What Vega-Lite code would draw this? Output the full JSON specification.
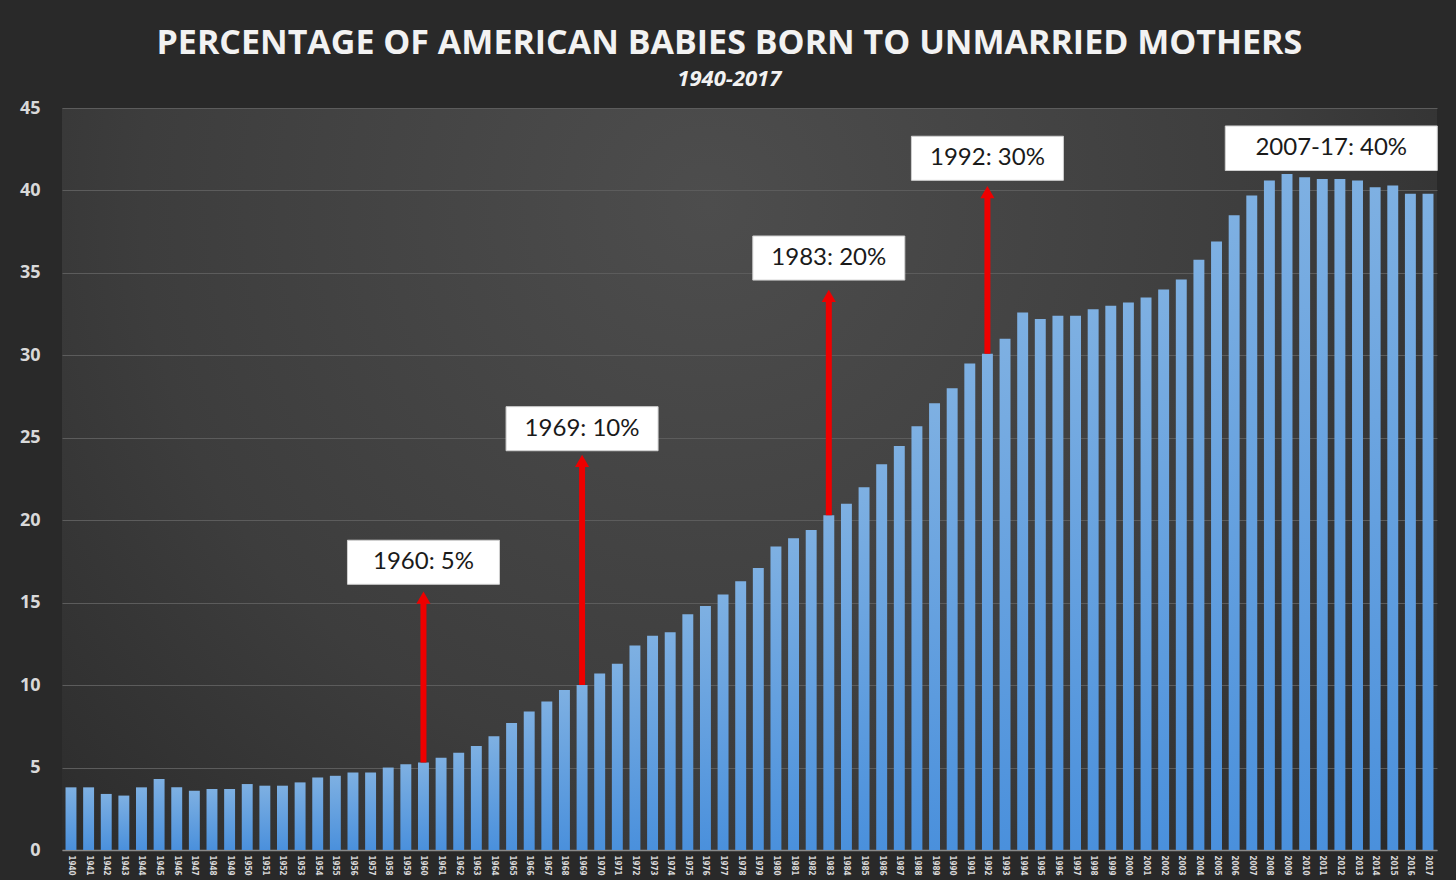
{
  "$schema": "https://vega.github.io/schema/vega-lite/v6.json",
  "width": 1456,
  "height": 880,
  "autosize": {"type": "fit", "contains": "padding"},
  "padding": {"left": 19, "right": 19, "top": 27, "bottom": 4},
  "background": "#292929",
  "title": {
    "text": "PERCENTAGE OF AMERICAN BABIES BORN TO UNMARRIED MOTHERS",
    "subtitle": "1940-2017",
    "anchor": "middle",
    "frame": "bounds",
    "color": "#f2f2f2",
    "font": "Open Sans",
    "fontSize": 34,
    "fontWeight": "bold",
    "subtitleColor": "#f2f2f2",
    "subtitleFont": "Open Sans",
    "subtitleFontSize": 22,
    "subtitleFontWeight": "bold",
    "subtitleFontStyle": "italic",
    "subtitlePadding": 8,
    "offset": 9
  },
  "config": {
    "view": {
      "stroke": null,
      "fill": {
        "gradient": "radial",
        "x1": 0.47, "y1": 0.3, "r1": 0,
        "x2": 0.47, "y2": 0.3, "r2": 0.75,
        "stops": [
          {"offset": 0, "color": "#4d4d4d"},
          {"offset": 0.55, "color": "#3d3d3d"},
          {"offset": 1, "color": "#262626"}
        ]
      }
    }
  },
  "datasets": {
    "births": [
      {"year": 1940, "pct": 3.8}, {"year": 1941, "pct": 3.8}, {"year": 1942, "pct": 3.4}, {"year": 1943, "pct": 3.3},
      {"year": 1944, "pct": 3.8}, {"year": 1945, "pct": 4.3}, {"year": 1946, "pct": 3.8}, {"year": 1947, "pct": 3.6},
      {"year": 1948, "pct": 3.7}, {"year": 1949, "pct": 3.7}, {"year": 1950, "pct": 4.0}, {"year": 1951, "pct": 3.9},
      {"year": 1952, "pct": 3.9}, {"year": 1953, "pct": 4.1}, {"year": 1954, "pct": 4.4}, {"year": 1955, "pct": 4.5},
      {"year": 1956, "pct": 4.7}, {"year": 1957, "pct": 4.7}, {"year": 1958, "pct": 5.0}, {"year": 1959, "pct": 5.2},
      {"year": 1960, "pct": 5.3}, {"year": 1961, "pct": 5.6}, {"year": 1962, "pct": 5.9}, {"year": 1963, "pct": 6.3},
      {"year": 1964, "pct": 6.9}, {"year": 1965, "pct": 7.7}, {"year": 1966, "pct": 8.4}, {"year": 1967, "pct": 9.0},
      {"year": 1968, "pct": 9.7}, {"year": 1969, "pct": 10.0}, {"year": 1970, "pct": 10.7}, {"year": 1971, "pct": 11.3},
      {"year": 1972, "pct": 12.4}, {"year": 1973, "pct": 13.0}, {"year": 1974, "pct": 13.2}, {"year": 1975, "pct": 14.3},
      {"year": 1976, "pct": 14.8}, {"year": 1977, "pct": 15.5}, {"year": 1978, "pct": 16.3}, {"year": 1979, "pct": 17.1},
      {"year": 1980, "pct": 18.4}, {"year": 1981, "pct": 18.9}, {"year": 1982, "pct": 19.4}, {"year": 1983, "pct": 20.3},
      {"year": 1984, "pct": 21.0}, {"year": 1985, "pct": 22.0}, {"year": 1986, "pct": 23.4}, {"year": 1987, "pct": 24.5},
      {"year": 1988, "pct": 25.7}, {"year": 1989, "pct": 27.1}, {"year": 1990, "pct": 28.0}, {"year": 1991, "pct": 29.5},
      {"year": 1992, "pct": 30.1}, {"year": 1993, "pct": 31.0}, {"year": 1994, "pct": 32.6}, {"year": 1995, "pct": 32.2},
      {"year": 1996, "pct": 32.4}, {"year": 1997, "pct": 32.4}, {"year": 1998, "pct": 32.8}, {"year": 1999, "pct": 33.0},
      {"year": 2000, "pct": 33.2}, {"year": 2001, "pct": 33.5}, {"year": 2002, "pct": 34.0}, {"year": 2003, "pct": 34.6},
      {"year": 2004, "pct": 35.8}, {"year": 2005, "pct": 36.9}, {"year": 2006, "pct": 38.5}, {"year": 2007, "pct": 39.7},
      {"year": 2008, "pct": 40.6}, {"year": 2009, "pct": 41.0}, {"year": 2010, "pct": 40.8}, {"year": 2011, "pct": 40.7},
      {"year": 2012, "pct": 40.7}, {"year": 2013, "pct": 40.6}, {"year": 2014, "pct": 40.2}, {"year": 2015, "pct": 40.3},
      {"year": 2016, "pct": 39.8}, {"year": 2017, "pct": 39.8}
    ],
    "arrows": [
      {"year": 1960, "from": 5.3, "to": 15.3, "ly": 17.45, "label": "1960: 5%"},
      {"year": 1969, "from": 10.0, "to": 23.6, "ly": 25.55, "label": "1969: 10%"},
      {"year": 1983, "from": 20.3, "to": 33.6, "ly": 35.9, "label": "1983: 20%"},
      {"year": 1992, "from": 30.1, "to": 39.9, "ly": 41.95, "label": "1992: 30%"}
    ],
    "wide": [
      {"year": 2011, "ly": 42.56, "label": "2007-17: 40%"}
    ]
  },
  "encoding": {
    "x": {
      "field": "year",
      "type": "ordinal",
      "scale": {"paddingInner": 0.38, "paddingOuter": 0.2},
      "axis": {
        "title": null,
        "labelAngle": 90,
        "labelAlign": "left",
        "labelBaseline": "middle",
        "labelFontSize": 8,
        "labelFont": "DejaVu Sans Condensed",
        "labelFontWeight": "bold",
        "labelColor": "#d8d8d8",
        "labelPadding": 5,
        "ticks": false,
        "domainColor": "#8a8a8a",
        "domainWidth": 1.5,
        "grid": false
      }
    }
  },
  "layer": [
    {
      "data": {"name": "births"},
      "mark": {
        "type": "bar",
        "color": {
          "gradient": "linear",
          "x1": 0, "y1": 0, "x2": 0, "y2": 1,
          "stops": [
            {"offset": 0, "color": "#7eb0e2"},
            {"offset": 1, "color": "#4a90dc"}
          ]
        }
      },
      "encoding": {
        "y": {
          "field": "pct",
          "type": "quantitative",
          "scale": {"domain": [0, 45], "nice": false},
          "axis": {
            "title": null,
            "values": [0, 5, 10, 15, 20, 25, 30, 35, 40, 45],
            "labelFont": "Open Sans",
            "labelFontSize": 18,
            "labelFontWeight": "bold",
            "labelColor": "#d9d9d9",
            "labelPadding": 22,
            "ticks": false,
            "domain": false,
            "gridColor": "#5c5c5c",
            "gridWidth": 1
          }
        }
      }
    },
    {
      "data": {"name": "arrows"},
      "mark": {"type": "rule", "color": "#ee0000", "strokeWidth": 6},
      "encoding": {
        "y": {"field": "from", "type": "quantitative"},
        "y2": {"field": "to"}
      }
    },
    {
      "data": {"name": "arrows"},
      "mark": {"type": "point", "shape": "triangle-up", "filled": true, "color": "#ee0000", "opacity": 1, "size": 200},
      "encoding": {
        "y": {"field": "to", "type": "quantitative"}
      }
    },
    {
      "data": {"name": "arrows"},
      "mark": {"type": "point", "shape": "M-1,-0.29H1V0.29H-1Z", "filled": true, "color": "#ffffff", "opacity": 1, "size": 23104, "stroke": "#d0d0d0", "strokeWidth": 1},
      "encoding": {
        "y": {"field": "ly", "type": "quantitative"}
      }
    },
    {
      "data": {"name": "arrows"},
      "mark": {"type": "text", "font": "Lato", "fontSize": 24, "color": "#1a1a1a", "baseline": "middle", "align": "center"},
      "encoding": {
        "y": {"field": "ly", "type": "quantitative"},
        "text": {"field": "label"}
      }
    },
    {
      "data": {"name": "wide"},
      "mark": {"type": "point", "shape": "M-1,-0.21H1V0.21H-1Z", "filled": true, "color": "#ffffff", "opacity": 1, "size": 44944, "stroke": "#d0d0d0", "strokeWidth": 1, "xOffset": 9},
      "encoding": {
        "y": {"field": "ly", "type": "quantitative"}
      }
    },
    {
      "data": {"name": "wide"},
      "mark": {"type": "text", "font": "Lato", "fontSize": 24, "color": "#1a1a1a", "baseline": "middle", "align": "center", "xOffset": 9},
      "encoding": {
        "y": {"field": "ly", "type": "quantitative"},
        "text": {"field": "label"}
      }
    }
  ]
}
